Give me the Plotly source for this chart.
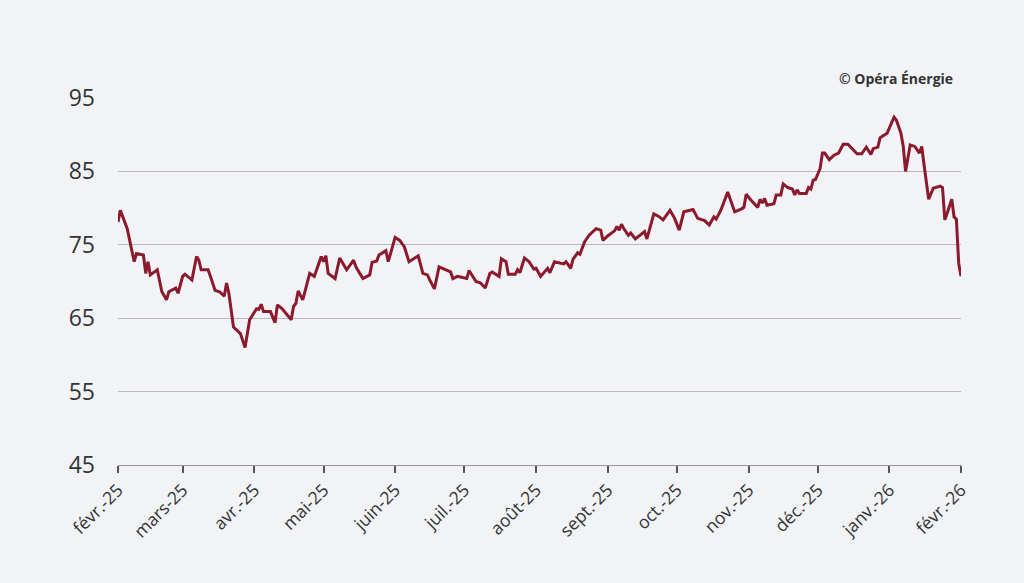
import plotly.graph_objects as go

dates = [
    "2025-02-01", "2025-02-02", "2025-02-05", "2025-02-08", "2025-02-09", "2025-02-12", "2025-02-13",
    "2025-02-14", "2025-02-15", "2025-02-18", "2025-02-20", "2025-02-22", "2025-02-23", "2025-02-26",
    "2025-02-27", "2025-03-01", "2025-03-02", "2025-03-05", "2025-03-07", "2025-03-08", "2025-03-09",
    "2025-03-12", "2025-03-13", "2025-03-15", "2025-03-17", "2025-03-19", "2025-03-20", "2025-03-21",
    "2025-03-23", "2025-03-26", "2025-03-28", "2025-03-30", "2025-04-02", "2025-04-03", "2025-04-04",
    "2025-04-05", "2025-04-08", "2025-04-10", "2025-04-11", "2025-04-13", "2025-04-17", "2025-04-18",
    "2025-04-19", "2025-04-20", "2025-04-22", "2025-04-25", "2025-04-27", "2025-04-30", "2025-05-01",
    "2025-05-02", "2025-05-03", "2025-05-06", "2025-05-08", "2025-05-11", "2025-05-14", "2025-05-15",
    "2025-05-18", "2025-05-21", "2025-05-22", "2025-05-24", "2025-05-25", "2025-05-28", "2025-05-29",
    "2025-06-01", "2025-06-03", "2025-06-05", "2025-06-07", "2025-06-11", "2025-06-13", "2025-06-15",
    "2025-06-16", "2025-06-18", "2025-06-20", "2025-06-23", "2025-06-25", "2025-06-26", "2025-06-28",
    "2025-07-02", "2025-07-03", "2025-07-06", "2025-07-08", "2025-07-10", "2025-07-12", "2025-07-13",
    "2025-07-16", "2025-07-17", "2025-07-19", "2025-07-20", "2025-07-23", "2025-07-24", "2025-07-25",
    "2025-07-27", "2025-07-29", "2025-07-31", "2025-08-01", "2025-08-03", "2025-08-06", "2025-08-07",
    "2025-08-09", "2025-08-13", "2025-08-14", "2025-08-16", "2025-08-17", "2025-08-19", "2025-08-20",
    "2025-08-22", "2025-08-24", "2025-08-27", "2025-08-29", "2025-08-30", "2025-09-01", "2025-09-04",
    "2025-09-05", "2025-09-06", "2025-09-07", "2025-09-08", "2025-09-10", "2025-09-11", "2025-09-13",
    "2025-09-17", "2025-09-18", "2025-09-21", "2025-09-23", "2025-09-25", "2025-09-28", "2025-09-30",
    "2025-10-02", "2025-10-04", "2025-10-08", "2025-10-10", "2025-10-13", "2025-10-15", "2025-10-17",
    "2025-10-18", "2025-10-20", "2025-10-23", "2025-10-24", "2025-10-26", "2025-10-29", "2025-10-30",
    "2025-10-31", "2025-11-02", "2025-11-05", "2025-11-06", "2025-11-07", "2025-11-08", "2025-11-09",
    "2025-11-12", "2025-11-13", "2025-11-15", "2025-11-16", "2025-11-18", "2025-11-20", "2025-11-21",
    "2025-11-22", "2025-11-23", "2025-11-26", "2025-11-27", "2025-11-28", "2025-11-29", "2025-11-30",
    "2025-12-02", "2025-12-03", "2025-12-04", "2025-12-06", "2025-12-08", "2025-12-10", "2025-12-12",
    "2025-12-14", "2025-12-16", "2025-12-18", "2025-12-20", "2025-12-22", "2025-12-24", "2025-12-25",
    "2025-12-27", "2025-12-28", "2025-12-31", "2026-01-02", "2026-01-03", "2026-01-04", "2026-01-06",
    "2026-01-07", "2026-01-08", "2026-01-10", "2026-01-12", "2026-01-14", "2026-01-15", "2026-01-16",
    "2026-01-18", "2026-01-20", "2026-01-23", "2026-01-24", "2026-01-25", "2026-01-26", "2026-01-28",
    "2026-01-29", "2026-01-30", "2026-01-31", "2026-02-01",
]

values = [
    78.1, 79.7, 77.2, 72.7, 73.8, 73.6, 71.1,
    72.7, 70.9, 71.6, 68.6, 67.5, 68.6, 69.1,
    68.4, 70.7, 71.0, 70.2, 73.4, 72.9, 71.6,
    71.6, 70.7, 68.8, 68.6, 68.0, 69.8, 68.4,
    63.8, 62.9, 61.0, 64.8, 66.3, 66.2, 66.9,
    65.9, 65.9, 64.4, 66.8, 66.3, 64.8, 66.6,
    67.0, 68.7, 67.5, 71.1, 70.7, 73.4, 72.7,
    73.5, 71.1, 70.4, 73.2, 71.6, 72.9, 72.0,
    70.4, 70.9, 72.6, 72.8, 73.6, 74.2, 72.7,
    76.0, 75.6, 74.7, 72.7, 73.5, 71.1, 70.9,
    70.2, 69.0, 72.0, 71.6, 71.3, 70.4, 70.7,
    70.4, 71.5, 70.0, 69.8, 69.1, 71.1, 71.3,
    70.7, 73.1, 72.7, 71.0, 71.0, 71.6, 71.2,
    73.2, 72.7, 71.7, 71.8, 70.7, 71.8, 71.2,
    72.7, 72.4, 72.7, 71.8, 73.0, 73.9, 73.7,
    75.4, 76.3, 77.2, 77.0, 75.6, 76.2, 76.9,
    77.5, 77.0, 77.8, 77.2, 76.3, 76.6, 75.8,
    76.8, 75.8, 79.2, 78.9, 78.4, 79.7, 78.6,
    77.0, 79.5, 79.8, 78.6, 78.3, 77.7, 78.8,
    78.5, 79.7, 82.2, 81.3, 79.5, 79.9, 80.1,
    81.9, 81.1, 80.1, 81.2, 80.7, 81.3, 80.4,
    80.6, 81.8, 81.8, 83.3, 82.8, 82.6, 81.8,
    82.5, 82.0, 82.0, 82.8, 82.6, 83.8, 83.9,
    85.4, 87.5, 87.5, 86.6, 87.2, 87.5, 88.7,
    88.7, 88.1, 87.4, 87.4, 88.3, 87.3, 88.1,
    88.3, 89.6, 90.2, 91.6, 92.4, 92.0, 90.2,
    88.4, 85.0, 88.6, 88.4, 87.5, 88.4, 85.9,
    81.2, 82.7, 83.0, 82.8, 78.4, 79.3, 81.2,
    78.8, 78.5, 72.5, 70.7,
]

month_ticks = [
    "2025-02-01", "2025-03-01", "2025-04-01", "2025-05-01", "2025-06-01", "2025-07-01",
    "2025-08-01", "2025-09-01", "2025-10-01", "2025-11-01", "2025-12-01", "2026-01-01", "2026-02-01",
]
month_labels = [
    "févr.-25", "mars-25", "avr.-25", "mai-25", "juin-25", "juil.-25", "août-25",
    "sept.-25", "oct.-25", "nov.-25", "déc.-25", "janv.-26", "févr.-26",
]
y_ticks = [45, 55, 65, 75, 85, 95]

BG = "#f2f3f7"
LINE = "#8a1a2c"
GRID = "#b8b8b8"
FONT = "Open Sans, Noto Sans, sans-serif"

fig = go.Figure()
fig.add_trace(go.Scatter(
    x=dates, y=values, mode="lines",
    line=dict(color=LINE, width=3),
    showlegend=False, hoverinfo="skip",
))

fig.update_layout(
    width=1024, height=583,
    paper_bgcolor=BG, plot_bgcolor=BG,
    margin=dict(l=118, r=63, t=98, b=118),
    font=dict(family=FONT, color="#333333"),
    xaxis=dict(
        range=["2025-02-01", "2026-02-01"],
        tickvals=month_ticks, ticktext=month_labels,
        tickangle=-45, tickfont=dict(size=17.5, color="#333333"),
        showgrid=False, zeroline=False,
        showline=True, linecolor="#9a9a9a", linewidth=1,
        ticks="outside", ticklen=7, tickcolor="#555555", tickwidth=1.5,
    ),
    yaxis=dict(
        range=[45, 95],
        tickvals=y_ticks,
        tickfont=dict(size=23, color="#333333"),
        showgrid=True, gridcolor=GRID, gridwidth=1,
        zeroline=False, showline=False,
        ticks="", ticklabelstandoff=22,
    ),
    annotations=[dict(
        text="<b>© Opéra Énergie</b>",
        xref="paper", yref="paper", x=0.9925, y=1.0,
        xanchor="right", yanchor="bottom", yshift=8,
        showarrow=False, font=dict(size=14, color="#333333", family=FONT),
    )],
)

fig.write_html(
    "out.html",
    config={"displayModeBar": False},
    post_script="document.body.style.margin='0';document.body.style.overflow='hidden';document.body.style.background='%s';" % BG,
)
